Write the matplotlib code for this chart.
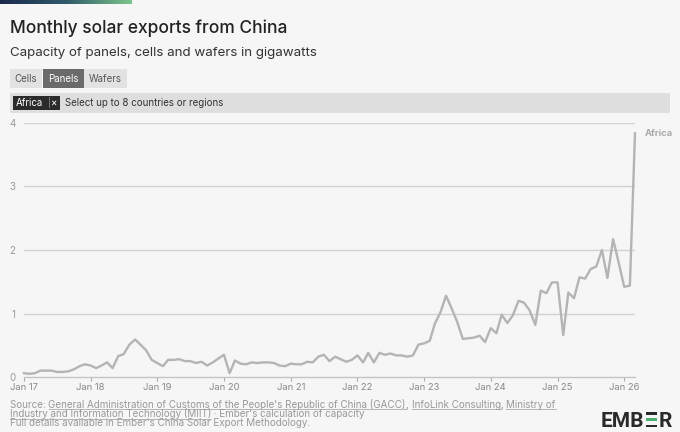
import numpy as np
import pandas as pd
import matplotlib
matplotlib.use('Agg')
from matplotlib import pyplot as plt
from matplotlib.patches import Rectangle, FancyBboxPatch

# monthly panel exports from China to Africa, GW (Jan 2017 - Mar 2026)
region = 'Africa'
africa_gw = [
    0.06, 0.05, 0.06, 0.10, 0.10, 0.10, 0.08, 0.08, 0.09, 0.12, 0.17, 0.20,
    0.18, 0.14, 0.18, 0.23, 0.14, 0.33, 0.36, 0.51, 0.59, 0.51, 0.42, 0.27,
    0.22, 0.17, 0.27, 0.27, 0.28, 0.25, 0.25, 0.22, 0.24, 0.18, 0.23, 0.29,
    0.35, 0.06, 0.26, 0.21, 0.20, 0.23, 0.22, 0.23, 0.23, 0.22, 0.18, 0.17,
    0.21, 0.20, 0.20, 0.24, 0.23, 0.32, 0.35, 0.25, 0.32, 0.28, 0.24, 0.27,
    0.34, 0.23, 0.38, 0.23, 0.38, 0.35, 0.37, 0.34, 0.34, 0.32, 0.34, 0.51,
    0.53, 0.57, 0.84, 1.02, 1.28, 1.08, 0.87, 0.60, 0.61, 0.62, 0.65, 0.55,
    0.77, 0.69, 0.98, 0.85, 0.97, 1.20, 1.17, 1.05, 0.82, 1.36, 1.32, 1.49,
    1.49, 0.66, 1.33, 1.24, 1.57, 1.55, 1.70, 1.74, 2.00, 1.56, 2.17, 1.81,
    1.42, 1.44, 3.84,
]
months = pd.date_range('2017-01-01', periods=len(africa_gw), freq='MS')
year_ticks = pd.date_range('2017-01-01', '2026-01-01', freq='YS')
year_labels = [d.strftime('Jan %y') for d in year_ticks]
y_ticks = [0, 1, 2, 3, 4]
tabs = ['Cells', 'Panels', 'Wafers']
active_tab = 'Panels'

W, H = 680, 432
BG = '#f6f6f6'
FONT = 'Inter'

fig = plt.figure(figsize=(W / 100, H / 100), dpi=100, facecolor=BG)


def fx(x):
    return x / W


def fy(y):
    return 1 - y / H


def box(x0, y0, x1, y1, color, round_px=0):
    if round_px:
        p = FancyBboxPatch((fx(x0), fy(y1)), fx(x1) - fx(x0), fy(y0) - fy(y1),
                           boxstyle=f'round,pad=0,rounding_size={round_px / W}',
                           transform=fig.transFigure, facecolor=color, edgecolor='none')
    else:
        p = Rectangle((fx(x0), fy(y1)), fx(x1) - fx(x0), fy(y0) - fy(y1),
                      transform=fig.transFigure, facecolor=color, edgecolor='none')
    fig.patches.append(p)


# gradient strip at the very top
grad = fig.add_axes([0, fy(4), fx(132), 4 / H])
grad.imshow(np.linspace(0, 1, 200)[None, :], aspect='auto',
            cmap=matplotlib.colors.LinearSegmentedColormap.from_list('g', ['#1d2a4d', '#2f5a6a', '#7dc58a']))
grad.axis('off')

fig.text(fx(10), fy(28), 'Monthly solar exports from China', fontsize=12.5,
         family=FONT, color='#222222', va='center', weight='medium')
fig.text(fx(10), fy(53), 'Capacity of panels, cells and wafers in gigawatts', fontsize=9.6,
         family=FONT, color='#333333', va='center')

# tab buttons
tab_edges = [(10, 42), (43, 84), (84, 127)]
for name, (x0, x1) in zip(tabs, tab_edges):
    on = name == active_tab
    box(x0, 69, x1, 88, '#6a6a6a' if on else '#e2e2e2')
    fig.text(fx((x0 + x1) / 2), fy(78.5), name, fontsize=7, family=FONT,
             color='white' if on else '#555555', ha='center', va='center')

# region selector
box(10, 93, 670, 113, '#dedede', round_px=2)
box(13, 96, 60, 110, '#2b2b2b')
fig.text(fx(16), fy(103), region, fontsize=7, family=FONT, color='white', va='center')
fig.text(fx(48), fy(103), '|', fontsize=6, family=FONT, color='#999999', va='center')
fig.text(fx(51), fy(103), '×', fontsize=7, family=FONT, color='white', va='center')
fig.text(fx(65), fy(103), 'Select up to 8 countries or regions', fontsize=7,
         family=FONT, color='#333333', va='center')

# main chart
ax = fig.add_axes([fx(24), fy(377), fx(635) - fx(24), fy(123) - fy(377)])
ax.set_facecolor(BG)
ax.plot(months, africa_gw, color='#b4b4b4', lw=1.7, clip_on=False)
ax.set_xlim(months[0], months[-1])
ax.set_ylim(0, 4)
for v in y_ticks[1:]:
    ax.axhline(v, color='#d2d2d2', lw=1, zorder=0)
ax.set_yticks(y_ticks)
ax.set_yticklabels([str(v) for v in y_ticks])
ax.set_xticks(year_ticks)
ax.set_xticklabels(year_labels)
for s in ['top', 'right', 'left']:
    ax.spines[s].set_visible(False)
ax.spines['bottom'].set_color('#c4c4c4')
ax.spines['bottom'].set_linewidth(1)
ax.tick_params(axis='y', length=0, pad=6, labelsize=7, labelcolor='#999999')
ax.tick_params(axis='x', length=3, width=0.8, color='#aaaaaa', pad=1,
               labelsize=6.8, labelcolor='#888888')
for lab in ax.get_xticklabels() + ax.get_yticklabels():
    lab.set_family(FONT)
ax.annotate(region, xy=(months[-1], africa_gw[-1]), xytext=(7, 0), textcoords='offset points',
            fontsize=6.8, family=FONT, color='#aaaaaa', weight='bold', va='center')

# footer with underlined source links
fig.canvas.draw()
renderer = fig.canvas.get_renderer()


def line_of(parts, x, y):
    for txt, link in parts:
        t = fig.text(fx(x), fy(y), txt, fontsize=7.1, family=FONT, color='#999999', va='baseline')
        bb = t.get_window_extent(renderer)
        if link:
            fig.lines.append(plt.Line2D([fx(x), fx(x + bb.width)], [fy(y + 1.5)] * 2,
                                        transform=fig.transFigure, color='#aaaaaa', lw=0.6))
        x += bb.width


line_of([('Source: ', False),
         ('General Administration of Customs of the People\'s Republic of China (GACC)', True),
         (', ', False), ('InfoLink Consulting', True), (', ', False), ('Ministry of', True)], 10, 407.5)
line_of([('Industry and Information Technology (MIIT)', True),
         (' \u00b7 Ember\'s calculation of capacity', False)], 10, 417)
line_of([('Full details available in Ember\'s China Solar Export Methodology.', False)], 10, 426.5)

# EMBER logo: letters with a three-bar E in the middle
logo = '#2a2a2a'
t = fig.text(fx(601), fy(427), 'EMB', fontsize=15, family='Roboto', weight='bold',
             color=logo, va='baseline')
x = 601 + t.get_window_extent(renderer).width + 1.5
for i, c in enumerate([logo, '#4caf70', logo]):
    box(x, 412 + i * 6.3, x + 11, 412 + i * 6.3 + 2.8, c)
fig.text(fx(x + 12.5), fy(427), 'R', fontsize=15, family='Roboto', weight='bold',
         color=logo, va='baseline')

fig.savefig('out.png', dpi=100, facecolor=BG)
